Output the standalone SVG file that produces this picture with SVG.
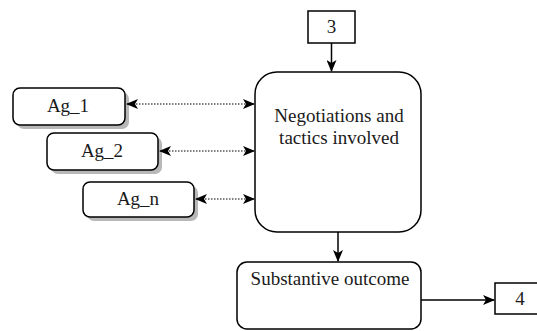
<svg xmlns="http://www.w3.org/2000/svg" width="537" height="331" viewBox="0 0 537 331">
<style>
.box{fill:#fff;stroke:#000;stroke-width:1.5}
.shadow{fill:#b8b8b8;stroke:none}
.t{font-family:"Liberation Serif","Times New Roman",serif;font-size:19px;fill:#1a1a1a;text-anchor:middle}
.solid{stroke:#000;stroke-width:1.5;fill:none}
.dot{stroke:#000;stroke-width:1.2;stroke-dasharray:1.5 1.5;fill:none}
</style>
<defs>
<marker id="ah" viewBox="0 0 12 10" refX="11" refY="5" markerWidth="12" markerHeight="10" markerUnits="userSpaceOnUse" orient="auto-start-reverse">
<path d="M0,0 L12,5 L0,10 L3,5 Z" fill="#000"/>
</marker>
</defs>
<g id="n3"><rect class="box" x="308" y="11" width="47" height="32"/><text class="t" x="331.5" y="33">3</text></g>
<g id="neg"><rect class="box" x="255" y="72" width="166" height="160" rx="22"/><text class="t" x="339" y="122">Negotiations and</text><text class="t" x="339" y="144">tactics involved</text></g>
<g id="ag1"><rect class="shadow" x="17" y="92" width="112" height="37" rx="7"/><rect class="box" x="13" y="88" width="112" height="37" rx="7"/><text class="t" x="68" y="112">Ag_1</text></g>
<g id="ag2"><rect class="shadow" x="51" y="137" width="111" height="37" rx="7"/><rect class="box" x="47" y="133" width="111" height="37" rx="7"/><text class="t" x="102" y="157">Ag_2</text></g>
<g id="agn"><rect class="shadow" x="87" y="186" width="111" height="35" rx="7"/><rect class="box" x="83" y="182" width="111" height="35" rx="7"/><text class="t" x="138" y="205">Ag_n</text></g>
<g id="sub"><rect class="box" x="237" y="262" width="184" height="67" rx="10"/><text class="t" x="330" y="285">Substantive outcome</text></g>
<g id="n4"><rect class="box" x="495" y="283" width="47" height="31"/><text class="t" x="520" y="305">4</text></g>
<g id="connectors">
<line class="solid" x1="331.5" y1="43" x2="331.5" y2="71" marker-end="url(#ah)"/>
<line class="solid" x1="338" y1="232" x2="338" y2="261" marker-end="url(#ah)"/>
<line class="solid" x1="421" y1="300" x2="494" y2="300" marker-end="url(#ah)"/>
<line class="dot" x1="127" y1="104" x2="254" y2="104" marker-start="url(#ah)" marker-end="url(#ah)"/>
<line class="dot" x1="160" y1="151" x2="254" y2="151" marker-start="url(#ah)" marker-end="url(#ah)"/>
<line class="dot" x1="196" y1="199" x2="254" y2="199" marker-start="url(#ah)" marker-end="url(#ah)"/>
</g>
</svg>
